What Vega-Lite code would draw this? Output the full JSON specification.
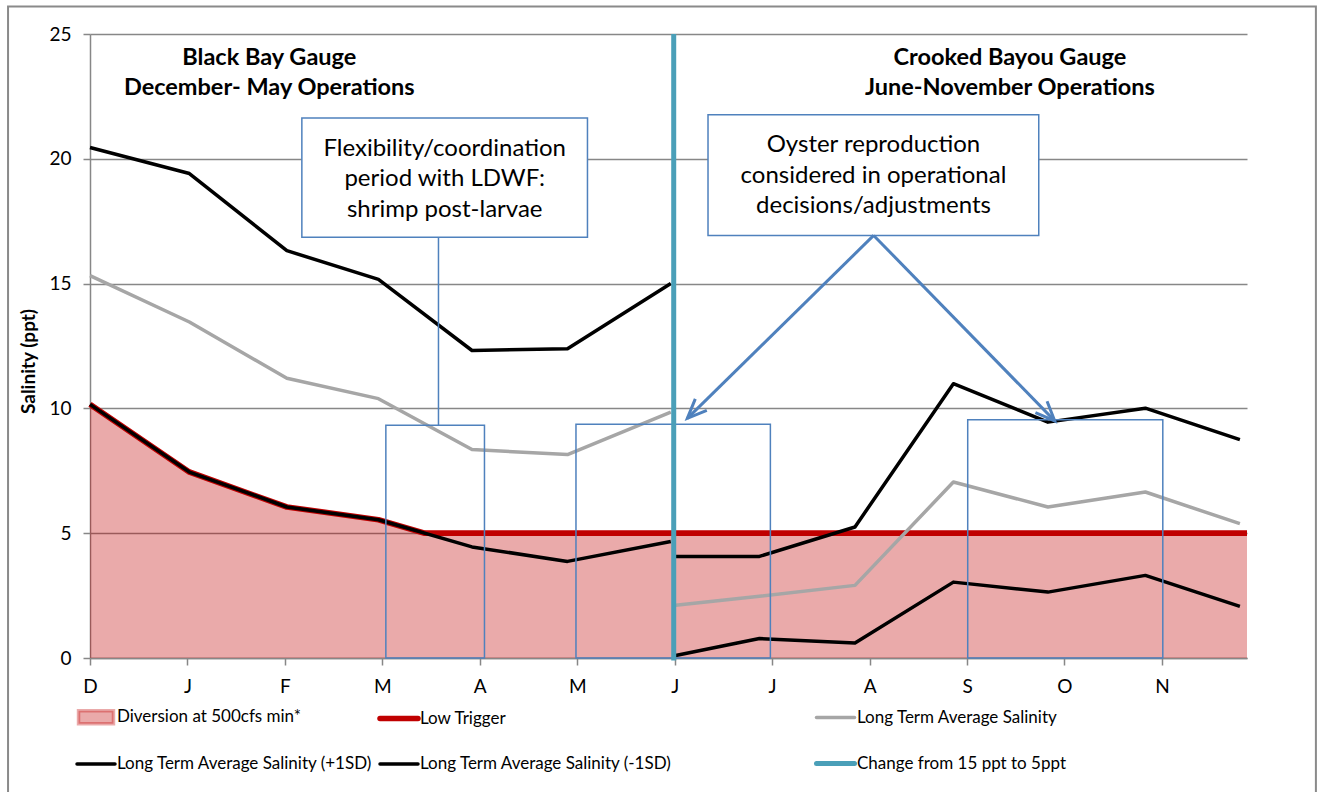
{
  "$schema": "https://vega.github.io/schema/vega-lite/v6.json",
  "width": 1157,
  "height": 624,
  "autosize": {"type": "none"},
  "padding": {"left": 90, "top": 34, "right": 73, "bottom": 134},
  "background": "white",
  "config": {
    "view": {"stroke": null},
    "font": "Lato",
    "axis": {"labelFont": "Lato", "titleFont": "Lato"},
    "axisY": {"titleFontSize": 19, "titleFontWeight": "bold", "titleColor": "#000000", "titleX": -52, "titleY": 327},
    "legend": {"labelFont": "Lato"}
  },
  "datasets": {
    "diversion": [
      {"series": "Diversion at 500cfs min*", "month": 0, "salinity": 10.16},
      {"series": "Diversion at 500cfs min*", "month": 1.02, "salinity": 7.45},
      {"series": "Diversion at 500cfs min*", "month": 2.02, "salinity": 6.05},
      {"series": "Diversion at 500cfs min*", "month": 2.96, "salinity": 5.54},
      {"series": "Diversion at 500cfs min*", "month": 3.435, "salinity": 5.0},
      {"series": "Diversion at 500cfs min*", "month": 11.873, "salinity": 5.0}
    ],
    "trigger": [
      {"series": "Low Trigger", "month": 0, "salinity": 10.16},
      {"series": "Low Trigger", "month": 1.02, "salinity": 7.45},
      {"series": "Low Trigger", "month": 2.02, "salinity": 6.05},
      {"series": "Low Trigger", "month": 2.96, "salinity": 5.54},
      {"series": "Low Trigger", "month": 3.435, "salinity": 5.0},
      {"series": "Low Trigger", "month": 11.873, "salinity": 5.0}
    ],
    "average": [
      {"line": "Long Term Average Salinity", "seg": "Black Bay", "month": 0, "salinity": 15.32},
      {"line": "Long Term Average Salinity", "seg": "Black Bay", "month": 1.02, "salinity": 13.46},
      {"line": "Long Term Average Salinity", "seg": "Black Bay", "month": 2.02, "salinity": 11.21},
      {"line": "Long Term Average Salinity", "seg": "Black Bay", "month": 2.96, "salinity": 10.39},
      {"line": "Long Term Average Salinity", "seg": "Black Bay", "month": 3.92, "salinity": 8.35},
      {"line": "Long Term Average Salinity", "seg": "Black Bay", "month": 4.9, "salinity": 8.15},
      {"line": "Long Term Average Salinity", "seg": "Black Bay", "month": 5.96, "salinity": 9.85},
      {"line": "Long Term Average Salinity", "seg": "Crooked Bayou", "month": 6.01, "salinity": 2.11},
      {"line": "Long Term Average Salinity", "seg": "Crooked Bayou", "month": 6.87, "salinity": 2.47},
      {"line": "Long Term Average Salinity", "seg": "Crooked Bayou", "month": 7.85, "salinity": 2.91},
      {"line": "Long Term Average Salinity", "seg": "Crooked Bayou", "month": 8.86, "salinity": 7.05},
      {"line": "Long Term Average Salinity", "seg": "Crooked Bayou", "month": 9.83, "salinity": 6.05},
      {"line": "Long Term Average Salinity", "seg": "Crooked Bayou", "month": 10.83, "salinity": 6.65},
      {"line": "Long Term Average Salinity", "seg": "Crooked Bayou", "month": 11.8, "salinity": 5.38}
    ],
    "sd": [
      {"series": "Long Term Average Salinity (+1SD)", "seg": "Black Bay", "month": 0, "salinity": 20.45},
      {"series": "Long Term Average Salinity (+1SD)", "seg": "Black Bay", "month": 1.02, "salinity": 19.41},
      {"series": "Long Term Average Salinity (+1SD)", "seg": "Black Bay", "month": 2.02, "salinity": 16.32},
      {"series": "Long Term Average Salinity (+1SD)", "seg": "Black Bay", "month": 2.96, "salinity": 15.17},
      {"series": "Long Term Average Salinity (+1SD)", "seg": "Black Bay", "month": 3.92, "salinity": 12.32},
      {"series": "Long Term Average Salinity (+1SD)", "seg": "Black Bay", "month": 4.9, "salinity": 12.39},
      {"series": "Long Term Average Salinity (+1SD)", "seg": "Black Bay", "month": 5.96, "salinity": 15.0},
      {"series": "Long Term Average Salinity (+1SD)", "seg": "Crooked Bayou", "month": 6.01, "salinity": 4.07},
      {"series": "Long Term Average Salinity (+1SD)", "seg": "Crooked Bayou", "month": 6.87, "salinity": 4.07},
      {"series": "Long Term Average Salinity (+1SD)", "seg": "Crooked Bayou", "month": 7.85, "salinity": 5.25},
      {"series": "Long Term Average Salinity (+1SD)", "seg": "Crooked Bayou", "month": 8.86, "salinity": 10.99},
      {"series": "Long Term Average Salinity (+1SD)", "seg": "Crooked Bayou", "month": 9.83, "salinity": 9.45},
      {"series": "Long Term Average Salinity (+1SD)", "seg": "Crooked Bayou", "month": 10.83, "salinity": 10.01},
      {"series": "Long Term Average Salinity (+1SD)", "seg": "Crooked Bayou", "month": 11.8, "salinity": 8.75},
      {"series": "Long Term Average Salinity (-1SD)", "seg": "Black Bay", "month": 0, "salinity": 10.16},
      {"series": "Long Term Average Salinity (-1SD)", "seg": "Black Bay", "month": 1.02, "salinity": 7.45},
      {"series": "Long Term Average Salinity (-1SD)", "seg": "Black Bay", "month": 2.02, "salinity": 6.05},
      {"series": "Long Term Average Salinity (-1SD)", "seg": "Black Bay", "month": 2.96, "salinity": 5.54},
      {"series": "Long Term Average Salinity (-1SD)", "seg": "Black Bay", "month": 3.92, "salinity": 4.45},
      {"series": "Long Term Average Salinity (-1SD)", "seg": "Black Bay", "month": 4.9, "salinity": 3.87},
      {"series": "Long Term Average Salinity (-1SD)", "seg": "Black Bay", "month": 5.96, "salinity": 4.67},
      {"series": "Long Term Average Salinity (-1SD)", "seg": "Crooked Bayou", "month": 6.01, "salinity": 0.1},
      {"series": "Long Term Average Salinity (-1SD)", "seg": "Crooked Bayou", "month": 6.87, "salinity": 0.78},
      {"series": "Long Term Average Salinity (-1SD)", "seg": "Crooked Bayou", "month": 7.85, "salinity": 0.6},
      {"series": "Long Term Average Salinity (-1SD)", "seg": "Crooked Bayou", "month": 8.86, "salinity": 3.04},
      {"series": "Long Term Average Salinity (-1SD)", "seg": "Crooked Bayou", "month": 9.83, "salinity": 2.64},
      {"series": "Long Term Average Salinity (-1SD)", "seg": "Crooked Bayou", "month": 10.83, "salinity": 3.31},
      {"series": "Long Term Average Salinity (-1SD)", "seg": "Crooked Bayou", "month": 11.8, "salinity": 2.07}
    ],
    "change": [
      {"line": "Change from 15 ppt to 5ppt", "month": 5.99}
    ],
    "periods": [
      {"period": "shrimp post-larvae", "start": 3.036, "end": 4.048, "top": 9.32},
      {"period": "oyster June-July", "start": 4.987, "end": 6.982, "top": 9.36},
      {"period": "oyster October-November", "start": 9.007, "end": 11.009, "top": 9.55}
    ],
    "connector": [
      {"month": 3.576, "top": 16.86, "bottom": 9.32}
    ],
    "callouts": [
      {"text": "Flexibility/coordination\nperiod with LDWF:\nshrimp post-larvae", "left": 2.174, "right": 5.105, "top": 21.63, "bottom": 16.86, "cx": 3.64, "cy": 20.4},
      {"text": "Oyster reproduction\nconsidered in operational\ndecisions/adjustments", "left": 6.342, "right": 9.736, "top": 21.76, "bottom": 16.93, "cx": 8.04, "cy": 20.55}
    ],
    "arrows": [
      {"from_m": 8.042, "from_s": 16.93, "to_m": 6.13, "to_s": 9.6, "angle": 135},
      {"from_m": 8.042, "from_s": 16.93, "to_m": 9.9, "to_s": 9.5, "angle": 45.8}
    ],
    "gauges": [
      {"text": "Black Bay Gauge\nDecember- May Operations", "month": 1.84, "salinity": 24.04},
      {"text": "Crooked Bayou Gauge\nJune-November Operations", "month": 9.44, "salinity": 24.04}
    ]
  },
  "layer": [
    {
      "data": {"name": "diversion"},
      "mark": {"type": "area"},
      "encoding": {
        "x": {
          "field": "month", "type": "quantitative",
          "scale": {"domain": [0, 11.873], "nice": false, "zero": false},
          "axis": {
            "title": null,
            "values": [0, 1, 2, 3, 4, 5, 6, 7, 8, 9, 10, 11],
            "labelExpr": "['D','J','F','M','A','M','J','J','A','S','O','N'][datum.value]",
            "grid": false,
            "domainColor": "#878787", "domainWidth": 1.5,
            "tickColor": "#878787", "tickSize": 7, "tickWidth": 1.5,
            "labelFontSize": 19, "labelColor": "#000000", "labelPadding": 12,
            "labelFlush": false, "labelOverlap": false
          }
        },
        "y": {
          "field": "salinity", "type": "quantitative",
          "scale": {"domain": [0, 25], "nice": false},
          "axis": {
            "title": "Salinity (ppt)",
            "titleFontSize": 19, "titleFontWeight": "bold", "titleColor": "#000000",
            "titleX": -52, "titleY": 327,
            "values": [0, 5, 10, 15, 20, 25],
            "grid": true, "gridColor": "#878787", "gridWidth": 1.5,
            "domainColor": "#878787", "domainWidth": 1.5,
            "tickColor": "#878787", "tickSize": 7, "tickWidth": 1.5,
            "labelFontSize": 19, "labelColor": "#000000", "labelPadding": 12
          }
        },
        "color": {
          "field": "series", "type": "nominal",
          "scale": {
            "domain": ["Diversion at 500cfs min*", "Low Trigger", "Long Term Average Salinity (+1SD)", "Long Term Average Salinity (-1SD)"],
            "range": ["rgba(192,0,0,0.333)", "#C00000", "#000000", "#000000"]
          },
          "legend": {
            "orient": "none", "legendX": -15, "legendY": 662,
            "direction": "horizontal",
            "columns": 2, "title": null,
            "symbolSize": 1444, "labelFontSize": 17, "labelColor": "#000000",
            "labelOffset": 0, "columnPadding": -4, "rowPadding": 12, "labelLimit": 500, "padding": 0,
            "encode": {
              "symbols": {
                "update": {
                  "shape": {"signal": "(datum.label === 'Diversion at 500cfs min*' ? 'M-0.92,-0.34H0.92V0.34H-0.92Z' : 'stroke')"},
                  "fill": {"signal": "(datum.label === 'Diversion at 500cfs min*' ? '#EAABAB' : 'transparent')"},
                  "stroke": {"signal": "(datum.label === 'Diversion at 500cfs min*' ? 'transparent' : (datum.label === 'Low Trigger' ? '#C00000' : '#000000'))"},
                  "strokeWidth": {"signal": "(datum.label === 'Low Trigger' ? 5.5 : 3.5)"},
                  "strokeCap": {"value": "round"},
                  "opacity": {"value": 1}
                }
              }
            }
          }
        }
      }
    },
    {
      "data": {"name": "trigger"},
      "mark": {"type": "line", "strokeWidth": 5.7, "strokeJoin": "round"},
      "encoding": {
        "x": {"field": "month", "type": "quantitative"},
        "y": {"field": "salinity", "type": "quantitative"},
        "color": {"field": "series", "type": "nominal"}
      }
    },
    {
      "data": {"name": "average"},
      "mark": {"type": "line", "strokeWidth": 3.5, "strokeJoin": "round"},
      "encoding": {
        "x": {"field": "month", "type": "quantitative"},
        "y": {"field": "salinity", "type": "quantitative"},
        "detail": {"field": "seg"},
        "stroke": {
          "field": "line", "type": "nominal",
          "scale": {"domain": ["Long Term Average Salinity", "Change from 15 ppt to 5ppt"], "range": ["#A6A6A6", "#4A9FB8"]},
          "legend": {
            "orient": "none", "legendX": 724, "legendY": 662,
            "columns": 1, "title": null,
            "symbolSize": 1444, "labelFontSize": 17, "labelColor": "#000000",
            "labelOffset": 0, "rowPadding": 16, "labelLimit": 500, "padding": 0,
            "encode": {
              "symbols": {
                "update": {
                  "shape": {"value": "stroke"},
                  "fill": {"value": "transparent"},
                  "stroke": {"signal": "(datum.label === 'Long Term Average Salinity' ? '#A6A6A6' : '#4A9FB8')"},
                  "strokeWidth": {"signal": "(datum.label === 'Long Term Average Salinity' ? 3.5 : 5)"},
                  "strokeCap": {"value": "round"},
                  "opacity": {"value": 1}
                }
              }
            }
          }
        }
      }
    },
    {
      "data": {"name": "sd"},
      "mark": {"type": "line", "strokeWidth": 3.5, "strokeJoin": "round"},
      "encoding": {
        "x": {"field": "month", "type": "quantitative"},
        "y": {"field": "salinity", "type": "quantitative"},
        "detail": {"field": "seg"},
        "color": {"field": "series", "type": "nominal"}
      }
    },
    {
      "data": {"name": "periods"},
      "mark": {"type": "rect", "fill": null, "fillOpacity": 0, "stroke": "#4F81BD", "strokeWidth": 1.5},
      "encoding": {
        "x": {"field": "start", "type": "quantitative"},
        "x2": {"field": "end"},
        "y": {"field": "top", "type": "quantitative"},
        "y2": {"datum": 0}
      }
    },
    {
      "data": {"name": "change"},
      "mark": {"type": "rule", "strokeWidth": 5},
      "encoding": {
        "x": {"field": "month", "type": "quantitative"},
        "y": {"datum": -0.1, "type": "quantitative"},
        "y2": {"datum": 25},
        "stroke": {"field": "line", "type": "nominal"}
      }
    },
    {
      "data": {"name": "connector"},
      "mark": {"type": "rule", "stroke": "#4F81BD", "strokeWidth": 1.5},
      "encoding": {
        "x": {"field": "month", "type": "quantitative"},
        "y": {"field": "top", "type": "quantitative"},
        "y2": {"field": "bottom"}
      }
    },
    {
      "data": {"name": "callouts"},
      "mark": {"type": "rect", "fill": "#FFFFFF", "stroke": "#4F81BD", "strokeWidth": 1.5},
      "encoding": {
        "x": {"field": "left", "type": "quantitative"},
        "x2": {"field": "right"},
        "y": {"field": "top", "type": "quantitative"},
        "y2": {"field": "bottom"}
      }
    },
    {
      "data": {"name": "callouts"},
      "mark": {"type": "text", "lineBreak": "\n", "align": "center", "baseline": "middle", "fontSize": 24, "lineHeight": 30.5, "color": "#000000"},
      "encoding": {
        "x": {"field": "cx", "type": "quantitative"},
        "y": {"field": "cy", "type": "quantitative"},
        "text": {"field": "text"}
      }
    },
    {
      "data": {"name": "arrows"},
      "mark": {"type": "rule", "stroke": "#4F81BD", "strokeWidth": 3},
      "encoding": {
        "x": {"field": "from_m", "type": "quantitative"},
        "y": {"field": "from_s", "type": "quantitative"},
        "x2": {"field": "to_m"},
        "y2": {"field": "to_s"}
      }
    },
    {
      "data": {"name": "arrows"},
      "mark": {"type": "point", "shape": "M-1,-0.42L0,0L-1,0.42", "filled": false, "stroke": "#4F81BD", "strokeWidth": 3, "size": 1500, "opacity": 1, "strokeJoin": "miter"},
      "encoding": {
        "x": {"field": "to_m", "type": "quantitative"},
        "y": {"field": "to_s", "type": "quantitative"},
        "angle": {"field": "angle", "type": "quantitative", "scale": null}
      }
    },
    {
      "data": {"name": "gauges"},
      "mark": {"type": "text", "lineBreak": "\n", "align": "center", "baseline": "middle", "fontSize": 23.5, "fontWeight": "bold", "lineHeight": 30, "color": "#000000"},
      "encoding": {
        "x": {"field": "month", "type": "quantitative"},
        "y": {"field": "salinity", "type": "quantitative"},
        "text": {"field": "text"}
      }
    },
    {
      "data": {"values": [{}]},
      "mark": {"type": "rect", "fill": null, "fillOpacity": 0, "stroke": "#8A8A8A", "strokeWidth": 2},
      "encoding": {
        "x": {"datum": -0.841, "type": "quantitative"},
        "x2": {"datum": 12.58},
        "y": {"datum": 26.1, "type": "quantitative"},
        "y2": {"datum": -6}
      }
    }
  ]
}
